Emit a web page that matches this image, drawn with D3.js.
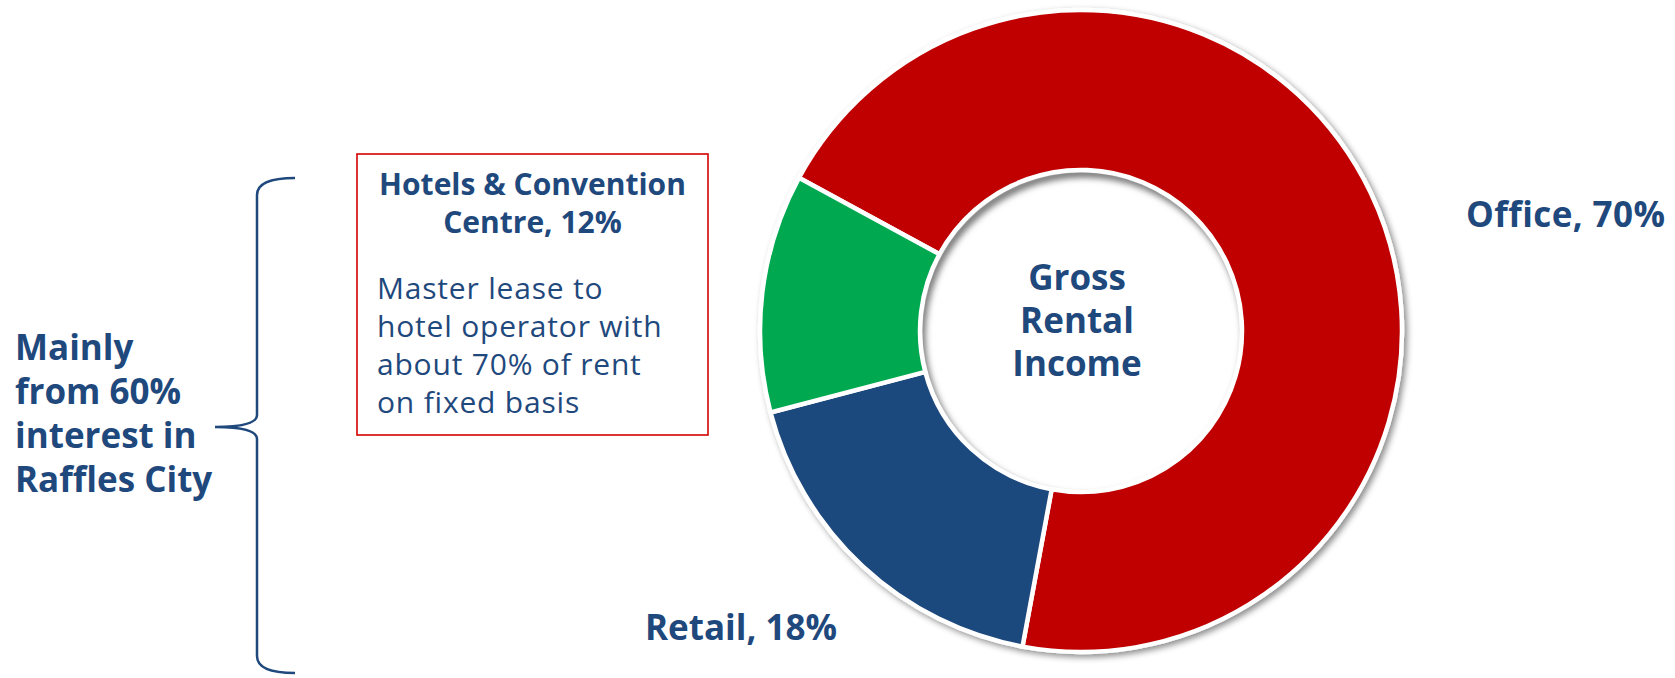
<!DOCTYPE html>
<html>
<head>
<meta charset="utf-8">
<script src="https://cdn.jsdelivr.net/npm/d3@7"></script>
<style>
  html, body { margin: 0; padding: 0; background: #fff; }
  svg { display: block; font-family: "Open Sans", sans-serif; }
</style>
</head>
<body>
<div class="plot"></div>
<script>
// Data
const categories = ["Office", "Retail", "Hotels & Convention Centre"];
const values = [70, 18, 12];
const sliceColors = ["#C00000", "#1F497D", "#00A850"];
const centerLines = ["Gross", "Rental", "Income"];
const officeLabel = "Office, 70%";
const retailLabel = "Retail, 18%";
const boxTitle = ["Hotels & Convention", "Centre, 12%"];
const boxBody = ["Master lease to", "hotel operator with", "about 70% of rent", "on fixed basis"];
const sideNote = ["Mainly", "from 60%", "interest in", "Raffles City"];

const W = 1675, H = 678;
const textColor = "#1F497D";

const svg = d3.select(".plot")
    .append("svg")
        .attr("width", W)
        .attr("height", H);

const defs = svg.append("defs");

// drop shadow under the ring
const shadow = defs.append("filter")
    .attr("id", "ringShadow")
    .attr("x", "-10%").attr("y", "-10%")
    .attr("width", "120%").attr("height", "120%");
shadow.append("feDropShadow")
    .attr("dx", 3).attr("dy", 3)
    .attr("stdDeviation", 3)
    .attr("flood-color", "#000")
    .attr("flood-opacity", 0.45);

const blur = defs.append("filter").attr("id", "innerBlur")
    .attr("x", "-20%").attr("y", "-20%")
    .attr("width", "140%").attr("height", "140%");
blur.append("feGaussianBlur").attr("stdDeviation", 3);

// donut
const cx = 1081, cy = 331;
const outerR = 321, innerR = 161;

const pie = d3.pie()
    .sort(null)
    .value(d => d)
    .startAngle(-61.5 * Math.PI / 180)
    .endAngle(-61.5 * Math.PI / 180 + 2 * Math.PI);

const arc = d3.arc()
    .innerRadius(innerR)
    .outerRadius(outerR);

const ring = svg.append("g")
    .attr("transform", `translate(${cx},${cy})`);

const slices = ring.append("g")
    .attr("filter", "url(#ringShadow)");

slices.selectAll("path")
    .data(pie(values))
    .enter()
    .append("path")
        .attr("d", arc)
        .attr("fill", (d, i) => sliceColors[i])
        .attr("stroke", "#fff")
        .attr("stroke-width", 4.5)
        .attr("stroke-linejoin", "miter");

// hole with soft inner shadow on the upper side
defs.append("clipPath").attr("id", "holeClip")
    .append("circle")
        .attr("cx", 0).attr("cy", 0)
        .attr("r", innerR - 2.5);

ring.append("circle")
    .attr("r", innerR - 2.5)
    .attr("fill", "#fff");

ring.append("g")
    .attr("clip-path", "url(#holeClip)")
    .append("circle")
        .attr("cx", 3).attr("cy", 5)
        .attr("r", innerR + 2)
        .attr("fill", "none")
        .attr("stroke", "#777")
        .attr("stroke-width", 9)
        .attr("filter", "url(#innerBlur)");

// centre text
svg.append("text")
    .attr("x", 1077)
    .attr("text-anchor", "middle")
    .attr("fill", textColor)
    .attr("font-weight", "bold")
    .style("font-size", "35px")
    .selectAll("tspan")
    .data(centerLines)
    .enter()
    .append("tspan")
        .attr("x", 1077)
        .attr("y", (d, i) => 290 + i * 43)
        .text(d => d);

// slice labels
svg.append("text")
    .attr("x", 1466).attr("y", 227)
    .attr("fill", textColor)
    .attr("font-weight", "bold")
    .style("font-size", "35px")
    .style("letter-spacing", "0.4px")
    .text(officeLabel);

svg.append("text")
    .attr("x", 645).attr("y", 640)
    .attr("fill", textColor)
    .attr("font-weight", "bold")
    .style("font-size", "35px")
    .text(retailLabel);

// hotels box
svg.append("rect")
    .attr("x", 357).attr("y", 154)
    .attr("width", 351).attr("height", 281)
    .attr("fill", "#fff")
    .attr("stroke", "#D40000")
    .attr("stroke-width", 1.6);

svg.append("text")
    .attr("text-anchor", "middle")
    .attr("fill", textColor)
    .attr("font-weight", "bold")
    .style("font-size", "30px")
    .selectAll("tspan")
    .data(boxTitle)
    .enter()
    .append("tspan")
        .attr("x", 532.5)
        .attr("y", (d, i) => 195 + i * 38)
        .text(d => d);

svg.append("text")
    .attr("fill", textColor)
    .style("font-size", "30px")
    .style("letter-spacing", "0.8px")
    .selectAll("tspan")
    .data(boxBody)
    .enter()
    .append("tspan")
        .attr("x", 377)
        .attr("y", (d, i) => 299 + i * 38)
        .text(d => d);

// side note and brace
svg.append("text")
    .attr("fill", textColor)
    .attr("font-weight", "bold")
    .style("font-size", "35px")
    .selectAll("tspan")
    .data(sideNote)
    .enter()
    .append("tspan")
        .attr("x", 15)
        .attr("y", (d, i) => 360 + i * 44)
        .text(d => d);

const brace = d3.path();
brace.moveTo(295, 178);
brace.quadraticCurveTo(257, 178, 257, 195);
brace.lineTo(257, 415);
brace.quadraticCurveTo(257, 427, 215, 427);
brace.quadraticCurveTo(257, 427, 257, 439);
brace.lineTo(257, 656);
brace.quadraticCurveTo(257, 673, 295, 673);

svg.append("path")
    .attr("d", brace.toString())
    .attr("fill", "none")
    .attr("stroke", textColor)
    .attr("stroke-width", 2.5);
</script>
</body>
</html>
